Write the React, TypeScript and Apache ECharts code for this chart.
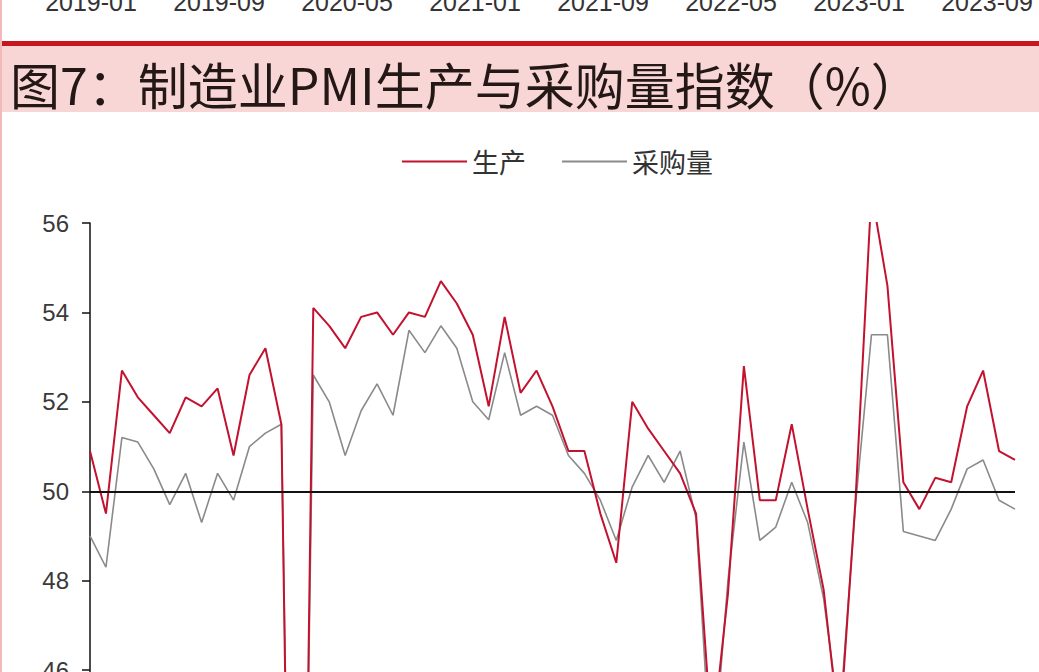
import React, { useEffect, useRef } from "react";
import * as echarts from "echarts";

// Monthly categories, 2019-01 .. 2023-11
const years = [2019, 2020, 2021, 2022, 2023];
const months = ["01", "02", "03", "04", "05", "06", "07", "08", "09", "10", "11", "12"];
const categories: string[] = [];
years.forEach((y) => months.forEach((m) => categories.push(`${y}-${m}`)));
categories.splice(59);

// 生产 index (%)
const production = [
  50.9, 49.5, 52.7, 52.1, 51.7, 51.3, 52.1, 51.9, 52.3, 50.8, 52.6, 53.2,
  51.5, 27.8, 54.1, 53.7, 53.2, 53.9, 54.0, 53.5, 54.0, 53.9, 54.7, 54.2,
  53.5, 51.9, 53.9, 52.2, 52.7, 51.9, 50.9, 50.9, 49.5, 48.4, 52.0, 51.4,
  50.9, 50.4, 49.5, 44.4, 47.7, 52.8, 49.8, 49.8, 51.5, 49.6, 47.8, 44.6,
  49.8, 56.7, 54.6, 50.2, 49.6, 50.3, 50.2, 51.9, 52.7, 50.9, 50.7,
];

// 采购量 index (%)
const purchase = [
  49.0, 48.3, 51.2, 51.1, 50.5, 49.7, 50.4, 49.3, 50.4, 49.8, 51.0, 51.3,
  51.5, 29.3, 52.6, 52.0, 50.8, 51.8, 52.4, 51.7, 53.6, 53.1, 53.7, 53.2,
  52.0, 51.6, 53.1, 51.7, 51.9, 51.7, 50.8, 50.4, 49.8, 48.9, 50.1, 50.8,
  50.2, 50.9, 49.4, 43.5, 48.0, 51.1, 48.9, 49.2, 50.2, 49.3, 47.6, 44.9,
  49.7, 53.5, 53.5, 49.1, 49.0, 48.9, 49.6, 50.5, 50.7, 49.8, 49.6,
];

// Axis labels of the figure above this one on the page
const prevAxisLabels = [
  "2019-01", "2019-09", "2020-05", "2021-01",
  "2021-09", "2022-05", "2023-01", "2023-09",
];

const titleText = "图7：制造业PMI生产与采购量指数（%）";
const seriesNames = ["生产", "采购量"];

const RED = "#c3122f";
const GREY = "#8a8a8a";
const CJK = '"Noto Sans CJK SC", "Noto Sans", sans-serif';
const LATIN = '"Liberation Sans", Arial, sans-serif';

export default function App() {
  const ref = useRef<HTMLDivElement>(null);

  useEffect(() => {
    document.body.style.margin = "0";
    document.body.style.overflow = "hidden";
    if (!ref.current) return;
    const chart = echarts.init(ref.current, undefined, { renderer: "svg" });

    const prevLabelEls = prevAxisLabels.map((t, i) => ({
      type: "text",
      x: 91 + i * 128,
      y: 2,
      style: {
        text: t,
        fill: "#333",
        fontSize: 25,
        fontFamily: LATIN,
        align: "center",
        verticalAlign: "middle",
        textAlign: "center",
        textVerticalAlign: "middle",
      },
    }));

    chart.setOption({
      animation: false,
      backgroundColor: "#ffffff",
      graphic: {
        elements: [
          ...prevLabelEls,
          {
            type: "rect",
            shape: { x: 0, y: 46, width: 1039, height: 66 },
            style: { fill: "#f8d6d6" },
          },
          {
            type: "rect",
            shape: { x: 0, y: 41, width: 1039, height: 5 },
            style: { fill: "#c8161d" },
          },
          {
            type: "rect",
            shape: { x: 0, y: 0, width: 2, height: 780 },
            style: { fill: "#f2b9b9" },
          },
          {
            type: "text",
            x: 10,
            y: 83,
            style: {
              text: titleText,
              fill: "#231815",
              fontSize: 50,
              fontFamily: CJK,
              align: "left",
              verticalAlign: "middle",
              textAlign: "left",
              textVerticalAlign: "middle",
            },
          },
        ],
      },
      legend: {
        left: 397,
        top: 143,
        icon: "rect",
        itemWidth: 65,
        itemHeight: 2,
        itemGap: 36,
        textStyle: { fontSize: 27, color: "#333", fontFamily: CJK },
        data: seriesNames,
      },
      grid: { left: 90, right: 24, top: 223, bottom: 20.5 },
      xAxis: {
        type: "category",
        data: categories,
        boundaryGap: false,
        axisLine: { show: false },
        axisTick: { show: false },
        axisLabel: { show: false },
        splitLine: { show: false },
      },
      yAxis: {
        type: "value",
        min: 44,
        max: 56,
        interval: 2,
        axisLine: { show: true, lineStyle: { color: "#111", width: 1.5 } },
        axisTick: { show: true, length: 8, lineStyle: { color: "#111", width: 1.5 } },
        axisLabel: { color: "#3a3a3a", fontSize: 24, fontFamily: LATIN, margin: 21 },
        splitLine: { show: false },
      },
      series: [
        {
          name: seriesNames[1],
          type: "line",
          data: purchase,
          showSymbol: false,
          symbol: "none",
          lineStyle: { color: GREY, width: 1.6 },
          itemStyle: { color: GREY },
          z: 2,
        },
        {
          name: seriesNames[0],
          type: "line",
          data: production,
          showSymbol: false,
          symbol: "none",
          lineStyle: { color: RED, width: 2 },
          itemStyle: { color: RED },
          z: 3,
          markLine: {
            silent: true,
            symbol: "none",
            label: { show: false },
            lineStyle: { color: "#111", width: 2, type: "solid" },
            data: [{ yAxis: 50 }],
          },
        },
      ],
    });

    return () => chart.dispose();
  }, []);

  return (
    <div style={{ width: 1039, height: 672, overflow: "hidden", position: "relative", background: "#fff" }}>
      <div ref={ref} style={{ width: 1039, height: 780 }} />
    </div>
  );
}
